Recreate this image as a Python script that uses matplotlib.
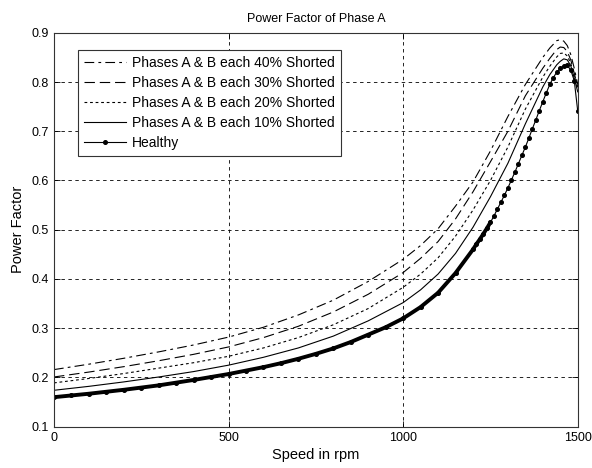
import numpy as np
import matplotlib.pyplot as plt

# velocidades (rpm) para las curvas con espiras en corto
speed = [0, 100, 200, 300, 400, 500, 600, 700, 800, 900, 1000, 1050, 1100, 1150,
         1200, 1250, 1300, 1350, 1400, 1420, 1440, 1450, 1460, 1470, 1480, 1490, 1500]

pf_40 = [0.216, 0.227, 0.239, 0.252, 0.266, 0.282, 0.302, 0.327, 0.357, 0.395, 0.440,
         0.468, 0.502, 0.548, 0.597, 0.660, 0.730, 0.795, 0.850, 0.869, 0.884, 0.886,
         0.883, 0.874, 0.856, 0.828, 0.795]
pf_30 = [0.201, 0.211, 0.222, 0.234, 0.247, 0.262, 0.281, 0.304, 0.333, 0.369, 0.413,
         0.442, 0.476, 0.522, 0.577, 0.638, 0.700, 0.772, 0.828, 0.848, 0.866, 0.871,
         0.870, 0.862, 0.845, 0.818, 0.790]
pf_20 = [0.189, 0.198, 0.208, 0.219, 0.230, 0.243, 0.260, 0.281, 0.307, 0.340, 0.383,
         0.410, 0.443, 0.487, 0.540, 0.600, 0.668, 0.745, 0.810, 0.832, 0.851, 0.858,
         0.859, 0.853, 0.838, 0.812, 0.785]
pf_10 = [0.174, 0.182, 0.191, 0.201, 0.212, 0.225, 0.241, 0.260, 0.284, 0.315, 0.352,
         0.378, 0.410, 0.452, 0.505, 0.567, 0.635, 0.715, 0.790, 0.815, 0.835, 0.842,
         0.847, 0.845, 0.833, 0.808, 0.780]

# curva sana (mas puntos cerca del maximo)
speed_h = [0, 50, 100, 150, 200, 250, 300, 350, 400, 450, 500, 550, 600, 650, 700, 750,
           800, 850, 900, 950, 1000, 1050, 1100, 1150,
           1200, 1210, 1220, 1230, 1240, 1250, 1260, 1270, 1280, 1290, 1300, 1310, 1320,
           1330, 1340, 1350, 1360, 1370, 1380, 1390, 1400, 1410, 1420, 1430, 1440, 1450,
           1460, 1470, 1480, 1490, 1500]
pf_h = [0.160, 0.1635, 0.167, 0.171, 0.175, 0.1795, 0.184, 0.1895, 0.195, 0.201, 0.207,
        0.214, 0.221, 0.229, 0.238, 0.248, 0.259, 0.272, 0.287, 0.302, 0.320, 0.343,
        0.372, 0.412,
        0.460, 0.471, 0.481, 0.492, 0.503, 0.515, 0.528, 0.542, 0.556, 0.570, 0.585,
        0.601, 0.617, 0.634, 0.651, 0.668, 0.686, 0.705, 0.723, 0.742, 0.760, 0.778,
        0.795, 0.809, 0.820, 0.828, 0.833, 0.834, 0.824, 0.803, 0.741]

labels = ['Phases A & B each 40% Shorted', 'Phases A & B each 30% Shorted',
          'Phases A & B each 20% Shorted', 'Phases A & B each 10% Shorted', 'Healthy']

plt.rcParams['font.family'] = ['Liberation Sans', 'DejaVu Sans']
plt.rcParams['font.size'] = 9
plt.rcParams['lines.scale_dashes'] = False

fig = plt.figure(figsize=(5.92, 4.68), dpi=100)
ax = fig.add_axes([0.0912, 0.0882, 0.8847, 0.8418])

ax.plot(speed, pf_40, color='k', lw=0.8, dashes=(7, 3, 2, 3), label=labels[0])
ax.plot(speed, pf_30, color='k', lw=0.8, dashes=(7.5, 3.5), label=labels[1])
ax.plot(speed, pf_20, color='k', lw=0.8, dashes=(2, 2), label=labels[2])
ax.plot(speed, pf_10, color='k', lw=0.8, label=labels[3])

# linea gruesa por debajo (los marcadores se solapan en la zona lenta)
sh = np.array(speed_h)
ph = np.array(pf_h)
low = sh <= 1250
ax.plot(sh[low], ph[low], color='k', lw=2.8, solid_capstyle='round')
ax.plot(speed_h, pf_h, color='k', lw=0.8, marker='o', markersize=2.6, label=labels[4])

ax.set_xlim(0, 1500)
ax.set_ylim(0.1, 0.9)
ax.set_xticks([0, 500, 1000, 1500])
ax.set_yticks(np.arange(0.1, 0.91, 0.1))
ax.set_yticklabels(['0.1', '0.2', '0.3', '0.4', '0.5', '0.6', '0.7', '0.8', '0.9'])
ax.tick_params(direction='in', top=True, right=True, length=4, width=0.6)
ax.grid(True, color='k', lw=0.6, dashes=(2.5, 2.5))
for s in ax.spines.values():
    s.set_linewidth(0.8)
    s.set_color('#333333')

ax.set_title('Power Factor of Phase A', fontsize=9, pad=8)
ax.set_xlabel('Speed in rpm', fontsize=10.5, labelpad=3)
ax.set_ylabel('Power Factor', fontsize=10.5, labelpad=5)

leg = ax.legend(loc='upper left', bbox_to_anchor=(0.046, 0.956), borderaxespad=0,
                fontsize=10, numpoints=1, handlelength=3.0, labelspacing=0.42,
                fancybox=False, framealpha=1, edgecolor='#333333', borderpad=0.45,
                handletextpad=0.4)
leg.get_frame().set_linewidth(0.8)

plt.savefig('out.png', dpi=100)
